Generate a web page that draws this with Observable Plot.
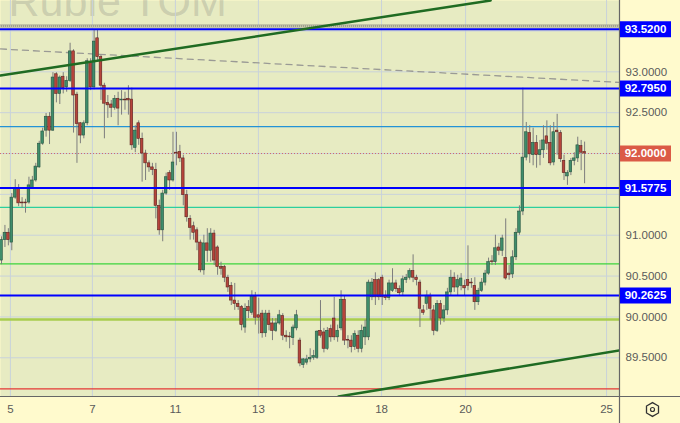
<!DOCTYPE html>
<html><head><meta charset="utf-8">
<script src="https://cdn.jsdelivr.net/npm/d3@7"></script>
<script src="https://cdn.jsdelivr.net/npm/@observablehq/plot@0.6"></script>
<style>html,body{margin:0;padding:0;background:#fffacd;} #chart svg{display:block}</style>
</head><body><div id="chart"></div>
<script>
// ---- data (prices) ----
const open = [90.69,90.94,91.03,90.91,91.46,91.58,91.40,91.40,91.40,91.58,
91.67,91.83,92.12,92.28,92.45,92.28,92.97,92.73,92.94,92.81,
92.89,93.25,92.72,92.37,92.22,92.37,93.11,92.81,93.41,93.18,
92.83,92.62,92.60,92.56,92.67,92.65,92.66,92.67,92.66,92.07,
92.37,92.18,92.00,91.88,91.83,91.80,91.36,91.06,91.51,91.76,
91.67,92.01,92.02,91.94,91.49,91.20,91.11,91.06,90.91,90.57,
90.90,90.81,91.02,90.85,90.61,90.61,90.48,90.38,90.20,90.16,
90.12,89.87,90.12,90.05,90.25,90.02,90.04,89.80,90.04,89.92,
89.83,89.92,90.01,89.77,89.76,89.74,89.86,89.71,89.41,89.44,
89.48,89.50,89.50,89.83,89.81,89.61,89.85,89.98,89.75,89.86,
90.21,89.72,89.71,89.63,89.77,89.61,89.75,89.75,90.24,90.45,
90.45,90.48,90.26,90.23,90.32,90.41,90.34,90.30,90.45,90.48,
90.56,90.48,90.42,90.08,90.16,90.26,90.08,89.83,90.16,89.98,
90.08,90.30,90.48,90.36,90.38,90.38,90.45,90.42,90.38,90.18,
90.32,90.42,90.53,90.68,90.67,90.85,90.81,90.72,90.53,90.52,
90.73,91.03,91.29,91.95,92.25,91.98,92.13,91.98,92.04,92.21,
92.13,91.89,92.28,92.25,91.91,91.72,91.77,91.91,91.94,92.09,
92.02];
const high = [90.98,91.12,91.08,91.51,91.68,91.62,91.46,91.44,91.71,91.72,
91.88,92.15,92.31,92.49,92.50,92.99,92.99,92.95,92.99,92.94,
93.35,93.27,92.75,92.38,92.40,93.16,93.16,93.51,93.51,93.20,
92.86,92.71,92.65,92.71,92.75,92.77,92.75,92.83,92.80,92.34,
92.40,92.25,92.04,91.91,91.88,91.88,91.43,91.55,91.76,91.79,
92.26,92.26,92.10,91.98,91.55,91.24,91.16,91.09,90.94,91.00,
91.08,91.08,91.06,90.87,90.67,90.63,90.51,90.42,90.41,90.20,
90.14,90.16,90.20,90.32,90.30,90.23,90.08,90.08,90.08,89.98,
89.98,90.08,90.04,89.83,89.81,89.90,90.08,89.74,89.49,89.53,
89.61,89.59,89.83,90.20,89.86,89.87,89.90,90.24,89.90,90.32,
90.25,89.77,89.77,89.83,89.83,89.90,89.96,90.45,90.47,90.54,
90.47,90.51,90.32,90.45,90.59,90.45,90.38,90.50,90.52,90.59,
90.76,90.51,90.45,90.14,90.32,90.29,90.14,90.20,90.20,90.14,
90.35,90.57,90.54,90.51,90.53,90.45,90.87,90.47,90.48,90.35,
90.47,90.57,90.72,90.75,91.00,90.90,91.00,91.20,90.63,90.81,
91.08,91.36,92.80,92.38,92.34,92.31,92.22,92.16,92.34,92.40,
92.34,92.38,92.48,92.28,91.98,91.79,91.94,92.01,92.20,92.16,
92.14];
const low = [90.64,90.85,90.87,90.81,91.44,91.35,91.33,91.27,91.38,91.56,
91.65,91.82,92.10,92.20,92.11,92.27,92.62,92.60,92.73,92.75,
92.87,92.25,91.88,92.12,92.18,92.34,92.77,92.78,93.14,92.65,
92.18,92.43,92.44,92.53,92.34,92.47,92.53,92.47,92.04,92.01,
92.10,91.65,91.67,91.77,91.73,91.20,91.00,90.92,91.49,91.55,
91.65,91.85,91.89,91.36,91.16,90.94,90.94,90.81,90.54,90.51,
90.67,90.67,90.63,90.51,90.51,90.42,90.30,90.14,90.08,90.08,
89.83,89.80,89.98,90.02,89.90,89.79,89.74,89.75,89.83,89.71,
89.81,89.90,89.71,89.69,89.61,89.65,89.83,89.39,89.37,89.41,
89.44,89.47,89.48,89.74,89.56,89.59,89.69,89.71,89.69,89.83,
89.65,89.61,89.56,89.59,89.56,89.56,89.65,89.71,90.20,90.14,
90.20,90.14,90.20,90.20,90.30,90.30,90.25,90.25,90.41,90.45,
90.42,90.38,89.87,90.02,90.08,89.96,89.77,89.81,89.90,89.93,
90.02,90.26,90.30,90.26,90.32,90.26,90.32,90.35,90.08,90.14,
90.30,90.38,90.51,90.63,90.63,90.75,90.74,90.45,90.45,90.47,
90.69,91.00,91.24,91.91,91.88,91.85,91.82,91.85,91.94,92.04,
91.85,91.85,91.98,91.89,91.67,91.61,91.73,91.85,91.89,91.79,
91.63];
const close = [90.94,91.03,90.94,91.46,91.58,91.39,91.39,91.39,91.61,91.67,
91.84,92.12,92.27,92.45,92.28,92.93,92.73,92.93,92.80,92.89,
93.25,92.71,92.36,92.22,92.37,93.13,92.81,93.37,93.18,92.83,
92.61,92.59,92.56,92.67,92.55,92.66,92.65,92.65,92.10,92.28,
92.18,92.00,91.88,91.83,91.80,91.36,91.06,91.51,91.71,91.67,
91.89,92.00,91.94,91.49,91.22,91.09,91.03,90.91,90.57,90.90,
90.81,91.02,90.69,90.61,90.59,90.48,90.36,90.20,90.16,90.12,
89.90,90.10,90.07,90.25,89.99,89.99,89.80,90.04,89.90,89.83,
89.92,90.02,89.77,89.75,89.75,89.87,90.02,89.43,89.48,89.48,
89.50,89.52,89.82,89.77,89.61,89.83,89.75,89.75,89.83,90.21,
89.71,89.71,89.63,89.79,89.61,89.83,89.87,90.42,90.42,90.24,
90.24,90.24,90.23,90.41,90.41,90.34,90.29,90.46,90.48,90.56,
90.48,90.45,90.10,90.05,90.26,90.10,89.83,90.16,89.98,90.08,
90.30,90.48,90.36,90.45,90.47,90.35,90.38,90.41,90.18,90.32,
90.42,90.53,90.67,90.67,90.84,90.81,90.96,90.47,90.51,90.73,
91.03,91.29,91.95,92.26,91.99,92.13,91.98,92.04,92.16,92.12,
91.88,92.26,92.26,91.93,91.76,91.76,91.91,91.94,92.10,92.01,
92.00];

const dayTickIndex = [2.6, 26.5, 50.7, 74.9, 110.8, 135.3, 176.4];
const dayTickLabels = ["5", "7", "11", "13", "18", "20", "25"];
const priceGrid = [89.5, 90, 90.5, 91, 91.5, 92, 92.5, 93, 93.5];
const priceTickLabels = [89.5, 90, 90.5, 91, 92, 92.5, 93];
const keyLevels = [93.52, 92.795, 91.5775, 90.2625];
const lastPrice = 92.0;
const minorLevels = [92.33, 91.34, 90.65, 89.97, 89.12];
const topBandLevel = [93.56];
const upperTrendT = [-0.3, 142.6];
const upperTrendP = [92.955, 93.873];
const lowerTrendT = [98.25, 180.2];
const lowerTrendP = [89.026, 89.59];
const dashedTrendT = [-0.3, 180.2];
const dashedTrendP = [93.28, 92.87];
const xDomain = [-0.2915, 180.175];
const yDomain = [89.026, 93.873];
const watermark = "Ruble TOM";

// ---- styles ----
const minorColors = ["#2393d6", "#2ccf9e", "#3dd43d", "#a9cd4e", "#e53935"];
const minorWidths = [1.2, 1.3, 1.3, 2.5, 1.2];
const FONT = "Liberation Sans, Arial, sans-serif";

const candles = open.map((o, i) => ({i, o, h: high[i], l: low[i], c: close[i]}));
const minorTable = minorLevels.map((p, k) => ({p, color: minorColors[k], w: minorWidths[k]}));
const toPts = (T, P) => T.map((t, k) => ({t, p: P[k]}));

const boxSymbol = {draw(ctx) { ctx.rect(-25.5, -8, 51, 16); }};

const chart = Plot.plot({
  width: 680, height: 423,
  marginLeft: 0, marginTop: 0, marginRight: 61, marginBottom: 27,
  style: {background: "#fffacd", fontFamily: FONT},
  x: {domain: xDomain, axis: null},
  y: {domain: yDomain, axis: null},
  marks: [
    Plot.frame({fill: "#e7ebc2", stroke: null}),
    Plot.text([watermark], {text: d => d, frameAnchor: "top-left", textAnchor: "start", lineAnchor: "bottom", dx: 8, dy: 15, fontSize: 43, fill: "#8a8a80", fillOpacity: 0.3}),
    Plot.gridY(priceGrid, {stroke: "#c9d2da", strokeOpacity: 1}),
    Plot.gridX(dayTickIndex, {stroke: "#c9d2da", strokeOpacity: 1}),
    Plot.ruleY(topBandLevel, {stroke: "#a0a090", strokeWidth: 3}),
    Plot.ruleY(topBandLevel, {stroke: "#e7ebc2", strokeWidth: 1, strokeDasharray: "1,1"}),
    Plot.ruleY(minorTable, {y: "p", stroke: "color", strokeWidth: "w"}),
    Plot.line(toPts(dashedTrendT, dashedTrendP), {x: "t", y: "p", stroke: "#9a9a95", strokeWidth: 1.3, strokeDasharray: "6,5", clip: true}),
    Plot.ruleY([lastPrice], {stroke: "#d06a6a", strokeWidth: 1, strokeDasharray: "1,2"}),
    Plot.ruleX(candles, {x: "i", y1: "l", y2: "h", stroke: "#7d7d7d", strokeWidth: 1}),
    Plot.rect(candles, {x1: d => d.i - 0.38, x2: d => d.i + 0.38, y1: "o", y2: "c",
      fill: d => d.c >= d.o ? "#3f8d6b" : "#b6443b",
      stroke: d => d.c >= d.o ? "#25533f" : "#5e2420", strokeWidth: 0.6}),
    Plot.ruleY(keyLevels, {stroke: "#0000ff", strokeWidth: 2}),
    Plot.line(toPts(upperTrendT, upperTrendP), {x: "t", y: "p", stroke: "#1f6b22", strokeWidth: 2.5, clip: true}),
    Plot.line(toPts(lowerTrendT, lowerTrendP), {x: "t", y: "p", stroke: "#1f6b22", strokeWidth: 2.5, clip: true}),
    // axis separators
    Plot.ruleX([xDomain[1]], {stroke: "#666", strokeWidth: 1.2, insetBottom: -27}),
    Plot.ruleY([yDomain[0]], {stroke: "#666", strokeWidth: 1.2, insetRight: -61}),
    // axes
    Plot.axisY(priceTickLabels, {anchor: "right", tickSize: 0, tickPadding: 6, tickFormat: d => d.toFixed(4), fill: "#5a5a5a", fontSize: 11.5}),
    Plot.axisX(dayTickIndex, {anchor: "bottom", tickSize: 0, tickPadding: 8, tickFormat: d => dayTickLabels[dayTickIndex.indexOf(d)], fill: "#5a5a5a", fontSize: 11.5}),
    // level labels
    Plot.dot(keyLevels, {y: d => d, frameAnchor: "right", dx: 26, symbol: boxSymbol, r: 5, fill: "#0000ff", stroke: null}),
    Plot.text(keyLevels, {y: d => d, text: d => d.toFixed(4), frameAnchor: "right", textAnchor: "middle", dx: 26, fill: "white", fontWeight: "bold", fontSize: 11.5}),
    Plot.dot([lastPrice], {y: d => d, frameAnchor: "right", dx: 26, symbol: boxSymbol, r: 5, fill: "#db5a46", stroke: null}),
    Plot.text([lastPrice], {y: d => d, text: d => d.toFixed(4), frameAnchor: "right", textAnchor: "middle", dx: 26, fill: "white", fontWeight: "bold", fontSize: 11.5}),
    // settings icon
    Plot.dot([0], {frameAnchor: "bottom-right", dx: 33, dy: 13, symbol: "hexagon", r: 6, fill: null, stroke: "#333", strokeWidth: 1.3}),
    Plot.dot([0], {frameAnchor: "bottom-right", dx: 33, dy: 13, r: 2, fill: null, stroke: "#333", strokeWidth: 1.2})
  ]
});
document.getElementById("chart").appendChild(chart);
</script>
</body></html>
